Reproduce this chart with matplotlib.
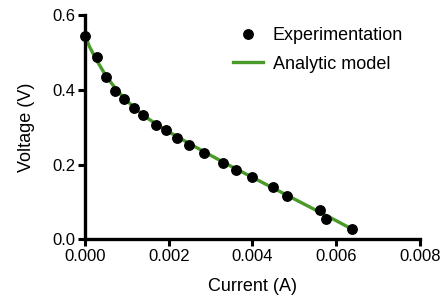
import matplotlib
matplotlib.use("Agg")
import matplotlib.pyplot as plt

plt.rcParams['font.family'] = ['Liberation Sans', 'DejaVu Sans']

exp_current = [0.0, 0.000279, 0.000493, 0.000715, 0.000937, 0.001168, 0.001382,
               0.001692, 0.00193, 0.00221, 0.00248, 0.00284, 0.00330, 0.00361,
               0.00400, 0.00449, 0.00482, 0.00562, 0.00576, 0.00638]
exp_voltage = [0.545, 0.488, 0.434, 0.398, 0.375, 0.351, 0.332,
               0.307, 0.292, 0.272, 0.253, 0.232, 0.204, 0.186,
               0.166, 0.141, 0.116, 0.0785, 0.0536, 0.0268]

model_current = [0.0, 0.0001, 0.00025, 0.0005, 0.00075, 0.001, 0.00125, 0.0015, 0.00175,
                 0.002, 0.0025, 0.003, 0.0035, 0.004, 0.0045, 0.005, 0.0055,
                 0.006, 0.0064]
model_voltage = [0.548, 0.518, 0.485, 0.438, 0.401, 0.371, 0.346, 0.324, 0.305,
                 0.288, 0.256, 0.225, 0.195, 0.166, 0.137, 0.108, 0.079,
                 0.050, 0.026]

xticks = [0.000, 0.002, 0.004, 0.006, 0.008]
yticks = [0.0, 0.2, 0.4, 0.6]

fig = plt.figure(figsize=(4.41, 3.02), dpi=100)
ax = fig.add_axes([0.1927, 0.2076, 0.7593, 0.7417])

ax.plot(model_current, model_voltage, color='#4a9a2a', lw=2.4, label='Analytic model', zorder=2)
ax.plot(exp_current, exp_voltage, 'o', color='black', ms=6.8, label='Experimentation', zorder=3, clip_on=False)

ax.set_xlim(0, 0.008)
ax.set_ylim(0, 0.6)
ax.set_xticks(xticks)
ax.set_xticklabels([f"{v:.3f}" for v in xticks])
ax.set_yticks(yticks)
ax.set_yticklabels([f"{v:.1f}" for v in yticks])

for s in ['top', 'right']:
    ax.spines[s].set_visible(False)
for s in ['left', 'bottom']:
    ax.spines[s].set_linewidth(2.4)
ax.tick_params(width=2.2, length=5, labelsize=12, pad=2)

ax.set_xlabel('Current (A)', fontsize=13, labelpad=10)
ax.set_ylabel('Voltage (V)', fontsize=13, labelpad=12)

h, l = ax.get_legend_handles_labels()
ax.legend([h[1], h[0]], [l[1], l[0]], loc='upper left', frameon=False, fontsize=13,
          bbox_to_anchor=(233 / 441, 1 - 27 / 302), bbox_transform=fig.transFigure,
          borderpad=0, borderaxespad=0, handlelength=1.65, handletextpad=0.55,
          labelspacing=0.65)

fig.savefig('out.png', dpi=100)
